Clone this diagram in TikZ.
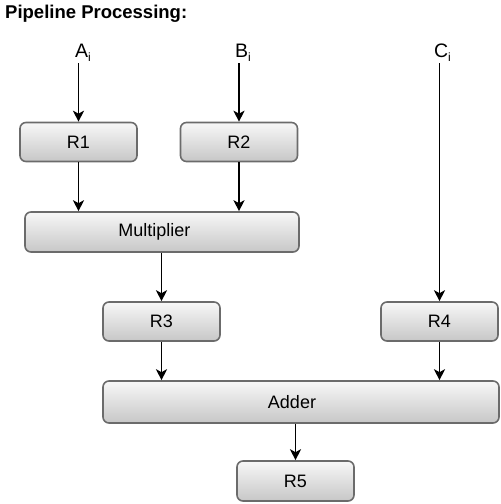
\documentclass[tikz,border=0pt]{standalone}
\usepackage{fontspec}
\setmainfont{Liberation Sans}
\usetikzlibrary{arrows.meta}

% Lowered index letter
\newcommand{\idx}[1]{\raisebox{-4pt}{\fontsize{12}{12}\selectfont #1}}

\begin{document}
\begin{tikzpicture}[x=1pt, y=-1pt]

% Page frame
\useasboundingbox (0,0) rectangle (501,504);

% Register box, input label and arrow styles
\tikzset{reg/.style={draw = black!58, line width = 1.6pt, rounded corners = 6pt, top color = black!3, bottom color = black!22, minimum width = 117pt, minimum height = 39pt, inner sep = 0pt, font = \fontsize{18}{18}\selectfont}}
\tikzset{inp/.style={inner sep = 0pt, outer sep = 2pt, font = \fontsize{19.5}{19.5}\selectfont}}
\tikzset{arr/.style={line width = 1.8pt, -{Stealth[length = 11pt, width = 11pt, inset = 3pt]}}}

% Title
\node (title) [anchor = west, inner sep = 0pt, font = \bfseries\fontsize{18.5}{18.5}\selectfont] at (5, 14) {Pipeline Processing:};

% Inputs
\node (Ai) [inp, anchor = base west] at (73, 57) {A\idx{i}};
\node (Bi) [inp, anchor = base west] at (233, 57) {B\idx{i}};
\node (Ci) [inp, anchor = base west] at (432, 57) {C\idx{i}};

% Registers and units
\node (R1) [reg] at (78.5, 142) {R1};
\node (R2) [reg] at (239, 142) {R2};
\node (mul) [reg, minimum width = 274pt, minimum height = 40pt] at (162, 232) {Multiplier\hspace*{15pt}};
\node (R3) [reg] at (161.5, 321.5) {R3};
\node (R4) [reg] at (439.5, 321.5) {R4};
\node (add) [reg, minimum width = 396pt, minimum height = 42pt] at (301, 402) {Adder\hspace*{18pt}};
\node (R5) [reg, minimum height = 40pt] at (295.5, 481) {R5};

% Data flow
\draw[arr] (Ai.south -| R1.north) -- (R1.north);
\draw[arr] (Bi.south -| R2.north) -- (R2.north);
\draw[arr] (Ci.south -| R4.north) -- (R4.north);

\draw[arr] (R1.south) -- (R1.south |- mul.north);
\draw[arr] (R2.south) -- (R2.south |- mul.north);
\draw[arr] (R3.north |- mul.south) -- (R3.north);

\draw[arr] (R3.south) -- (R3.south |- add.north);
\draw[arr] (R4.south) -- (R4.south |- add.north);
\draw[arr] (R5.north |- add.south) -- (R5.north);

\end{tikzpicture}
\end{document}
